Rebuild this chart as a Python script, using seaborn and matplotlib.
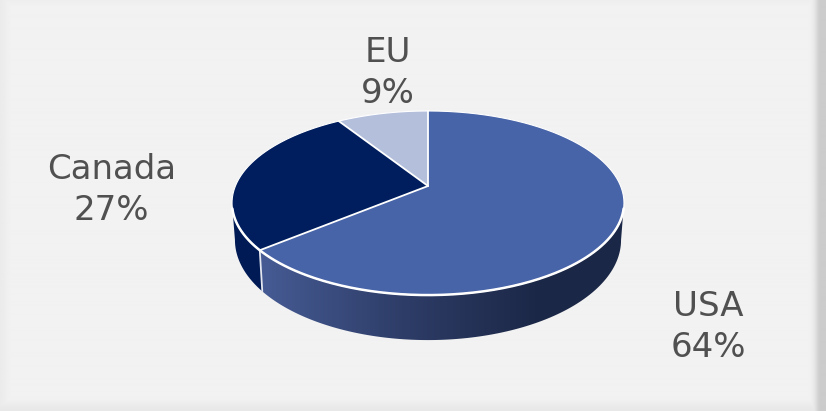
import numpy as np
import matplotlib
matplotlib.use("Agg")
import matplotlib.pyplot as plt
from matplotlib.patches import Polygon
from matplotlib.colors import LinearSegmentedColormap
import seaborn as sns

regions = ["EU", "Canada", "USA"]
shares = [9, 27, 64]
label_anchor = {"EU": (388, 73), "Canada": (111.5, 190), "USA": (708, 327)}

sns.set_theme(style="white")
plt.rcParams["font.family"] = ["DejaVu Sans"]
face_colors = sns.color_palette(["#B4BFDC", "#001E5E", "#4864A8"])
TEXT_COLOR = "#505050"

W, H = 826, 411
fig = plt.figure(figsize=(W / 100, H / 100), dpi=100)
ax = fig.add_axes([0, 0, 1, 1])
ax.set_xlim(0, W)
ax.set_ylim(H, 0)
ax.axis("off")

# Panel background with a soft shadow along its edges
xx = np.arange(W) + 0.5
yy = np.arange(H) + 0.5
def edge_falloff(dist, width, strength):
    return strength * np.exp(-(np.maximum(dist, 0) / width) ** 2)
shade_x = edge_falloff(xx, 8, 7) + edge_falloff(W - 5 - xx, 6, 38)
shade_y = edge_falloff(yy, 5, 4) + edge_falloff(H - yy, 8, 10)
panel = 242 - np.maximum.outer(shade_y, shade_x)
ax.imshow(panel, cmap="gray", vmin=0, vmax=255, extent=(0, W, H, 0),
          aspect="auto", interpolation="bilinear", zorder=0)
ax.set_xlim(0, W)
ax.set_ylim(H, 0)

# Tilted disc: a perspective projection of the unit circle around the apex
APEX = (428.0, 186.0)
A, B, K = 192.6, 88.9, 0.185
BASE = dict(drop=35.5, sx=0.985, sy=1.087)

def project(theta, drop=0.0, sx=1.0, sy=1.0):
    """theta is measured counter-clockwise from twelve o'clock."""
    u, v = -np.sin(theta), np.cos(theta)
    w = 1 + K * v
    return np.column_stack((APEX[0] + sx * A * u / w,
                            APEX[1] + drop - sy * B * v / w))

def arc(t0, t1, n=240, **kw):
    return project(np.linspace(t0, t1, n), **kw)

edges = np.radians(np.cumsum([0] + shares) * 3.6)

# Side walls span the front of the disc, between its left and right extremes
wall_cmap = LinearSegmentedColormap.from_list(
    "wall", ["#465B94", "#2E3D68", "#1B2746"])
left_end = np.arccos(-K)
right_end = 2 * np.pi - left_end
usa_wall = np.vstack((arc(edges[2], right_end), arc(right_end, edges[2], **BASE)))
canada_wall = np.vstack((arc(left_end, edges[2]), arc(edges[2], left_end, **BASE)))

ax.add_patch(Polygon(canada_wall, closed=True, fc="#001A55", ec="none", zorder=1))
clip = Polygon(usa_wall, closed=True, fc="none", ec="none", zorder=1,
               transform=ax.transData)
ax.add_patch(clip)
gradient = np.clip((xx[None, 240:640] - 262) / 280, 0, 1)
im = ax.imshow(gradient, cmap=wall_cmap, vmin=0, vmax=1.0, extent=(240, 640, 350, 190),
               aspect="auto", zorder=1)
im.set_clip_path(clip)
ax.set_xlim(0, W)
ax.set_ylim(H, 0)

# Pale outline down the seam between the two visible walls
seam_top = project(edges[2])
seam_bottom = project(edges[2], **BASE)
ax.plot([seam_top[0, 0], seam_bottom[0, 0]], [seam_top[0, 1], seam_bottom[0, 1]],
        color="#E4E7F0", lw=1.3, zorder=2, solid_capstyle="round")

# Top faces, one slice per region
for name, t0, t1, color in zip(regions, edges[:-1], edges[1:], face_colors):
    outline = np.vstack(([APEX], arc(t0, t1)))
    ax.add_patch(Polygon(outline, closed=True, fc=color, ec="none", zorder=3))

# White seams on the top face, a fine outer edge and a heavier front rim
for t in edges[:3]:
    tip = project(t)
    ax.plot([APEX[0], tip[0, 0]], [APEX[1], tip[0, 1]], color="white", lw=1.3,
            zorder=4, solid_capstyle="round")
ax.plot(*arc(0, 2 * np.pi, n=480).T, color="white", lw=0.8, zorder=4)
ax.plot(*arc(np.radians(104), np.radians(256)).T, color="white", lw=1.8,
        zorder=4, solid_capstyle="round")

# Category and share labels
for name, share in zip(regions, shares):
    x, y = label_anchor[name]
    ax.text(x, y, f"{name}\n{share}%", ha="center", va="center", color=TEXT_COLOR,
            fontsize=24.5, linespacing=1.31, zorder=5)

fig.savefig("out.png", dpi=100)
